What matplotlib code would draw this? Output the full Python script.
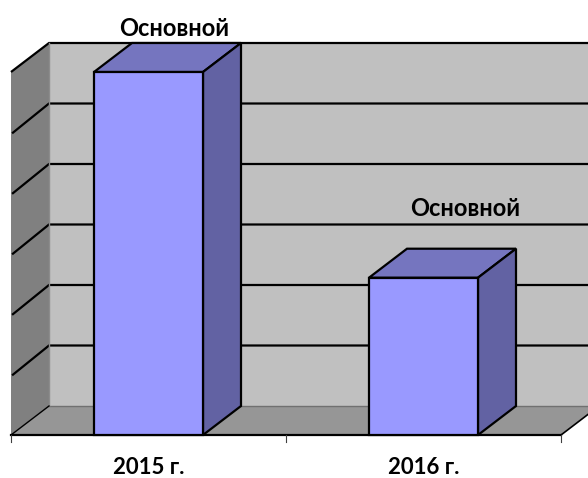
import matplotlib
matplotlib.use("Agg")
import matplotlib.pyplot as plt
from matplotlib.patches import Polygon

categories = ["2015 г.", "2016 г."]
values = [6.0, 2.6]
bar_labels = ["Основной", "Основной"]
gridlines = [1, 2, 3, 4, 5, 6]

W, H = 588, 478
CAT_PX = 275.0
UNIT_PX = 60.5
X0_PX = 148.5
Y0_PX = 435.0
DX = 38 / CAT_PX
DY = 29 / UNIT_PX
BAR_W = 109 / CAT_PX
LW = 1.6

plt.rcParams["font.family"] = ["Lato", "Open Sans", "DejaVu Sans"]
fig = plt.figure(figsize=(W / 100, H / 100), dpi=100)
ax = fig.add_axes([0, 0, 1, 1])
ax.set_xlim(-X0_PX / CAT_PX, (W - X0_PX) / CAT_PX)
ax.set_ylim((Y0_PX - H) / UNIT_PX, Y0_PX / UNIT_PX)
ax.axis("off")

xl, xr = -0.5, 1.5
ytop = gridlines[-1]


def poly(pts, fc, ec="none", lw=0, z=1):
    ax.add_patch(Polygon(pts, closed=True, fc=fc, ec=ec, lw=lw, zorder=z,
                         joinstyle="miter"))


# back wall, floor, left wall
poly([(xl + DX, DY), (xr + DX, DY), (xr + DX, ytop + DY), (xl + DX, ytop + DY)], "#C0C0C0")
poly([(xl, 0), (xr, 0), (xr + DX, DY), (xl + DX, DY)], "#969696")
poly([(xl, 0), (xl + DX, DY), (xl + DX, ytop + DY), (xl, ytop)], "#808080")

# gridlines
for g in gridlines:
    start = xl + 0.004 if g < ytop else xl
    ax.plot([start, xl + DX, xr + DX], [g - 0.004 / DX * DY if g < ytop else g, g + DY, g + DY],
            color="black", lw=LW, zorder=2, solid_joinstyle="miter", solid_capstyle="butt")
ax.plot([xl + DX, xr + DX], [DY, DY], color="#707070", lw=1, zorder=2)
ax.plot([xl + DX, xl + DX], [DY, ytop + DY], color="#8c8c8c", lw=1, zorder=2)
ax.plot([xl, xl + DX], [0, DY], color="black", lw=1, zorder=2)
ax.plot([xr, xr + DX], [0, DY], color="black", lw=1.2, zorder=2)

# axis line and ticks
ax.plot([xl, xr], [0, 0], color="black", lw=LW, zorder=3)
for t in [xl, 0.5, xr]:
    ax.plot([t, t], [0, -7 / UNIT_PX], color="#404040", lw=0.8, zorder=3)

# bars (label offsets in px from the bar's front-top centre)
label_offsets = [(25.5, 43), (41.5, 69)]
for i, v in enumerate(values):
    a, b = i - BAR_W / 2, i + BAR_W / 2
    poly([(a, v), (b, v), (b + DX, v + DY), (a + DX, v + DY)], "#7575BF", "black", LW, 4)
    poly([(b, 0), (b + DX, DY), (b + DX, v + DY), (b, v)], "#6262A3", "black", LW, 4)
    poly([(a, 0), (b, 0), (b, v), (a, v)], "#9999FF", "black", LW, 5)
    ox, oy = label_offsets[i]
    ax.annotate(bar_labels[i], (i, v), xytext=(ox * 0.72, oy * 0.72),
                textcoords="offset points", ha="center", va="center",
                fontsize=17, fontweight="bold", color="black", zorder=6)
    ax.text(i, -32.5 / UNIT_PX, categories[i], ha="center", va="center",
            fontsize=16, fontweight="bold", color="black", zorder=6)

fig.savefig("out.png", dpi=100, facecolor="white")
